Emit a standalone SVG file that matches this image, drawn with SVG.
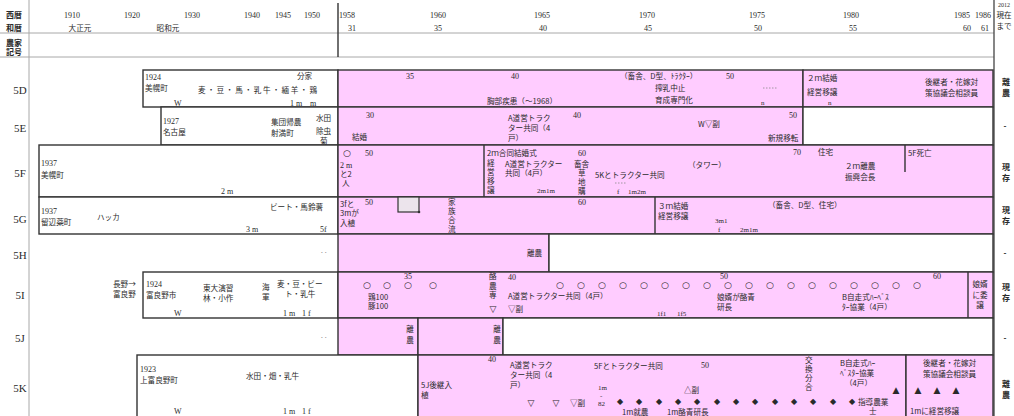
<svg xmlns="http://www.w3.org/2000/svg" width="1014" height="416" viewBox="0 0 1014 416">
<style>
.w{fill:#fff;stroke:#333;stroke-width:1.4}
.p{fill:#ffccff;stroke:#333;stroke-width:1.4}
.gl{stroke:#a8a8a8;stroke-width:1;fill:none}
.dl{stroke:#333;stroke-width:1.4;fill:none}
.dot{stroke:#888;stroke-width:0.8;stroke-dasharray:1.5 1.5;fill:none}
text{fill:#2a2a2a}
.t{font-family:"Noto Sans CJK JP","Liberation Sans",sans-serif;font-size:7.6px}
.n{font-family:"Liberation Serif","Noto Sans CJK JP",serif;font-size:8px}
.s{font-family:"Liberation Serif","Noto Sans CJK JP",serif;font-size:7px}
.lab{font-family:"Liberation Serif",serif;font-size:11px;text-anchor:middle}
.m{text-anchor:middle}
.sym{font-family:"DejaVu Sans",sans-serif;font-size:9px;text-anchor:middle}
.dm{font-family:"DejaVu Sans",sans-serif;font-size:8px;text-anchor:middle}
.st{font-family:"Noto Sans CJK JP",sans-serif;font-size:8px;text-anchor:middle;font-weight:bold}
.hd{font-family:"Noto Sans CJK JP",sans-serif;font-size:8px;font-weight:bold}
.gr{fill:#888}
</style>

<g id="grid">
<line class="gl" x1="29" y1="0" x2="29" y2="416"/>
<line class="gl" x1="0" y1="33" x2="994" y2="33"/>
<line class="gl" x1="0" y1="57" x2="994" y2="57"/>
<line class="dl" x1="338" y1="3" x2="338" y2="57"/>
<line stroke="#444" stroke-width="1.3" x1="994" y1="0" x2="994" y2="416"/>
</g>

<g id="header">
<text class="hd" x="6" y="18">西暦</text>
<text class="hd" x="6" y="31">和暦</text>
<text class="hd" x="6" y="46">農家</text>
<text class="hd" x="6" y="55">記号</text>
<text class="n m" x="72" y="18">1910</text>
<text class="n m" x="132" y="18">1920</text>
<text class="n m" x="192" y="18">1930</text>
<text class="n m" x="252" y="18">1940</text>
<text class="n m" x="283" y="18">1945</text>
<text class="n m" x="312" y="18">1950</text>
<text class="t m" x="80" y="31">大正元</text>
<text class="t m" x="168" y="31">昭和元</text>
<text class="n m" x="347" y="18">1958</text>
<text class="n m" x="352" y="31">31</text>
<text class="n m" x="438" y="18">1960</text>
<text class="n m" x="438" y="31">35</text>
<text class="n m" x="542" y="18">1965</text>
<text class="n m" x="543" y="31">40</text>
<text class="n m" x="647" y="18">1970</text>
<text class="n m" x="648" y="31">45</text>
<text class="n m" x="757" y="18">1975</text>
<text class="n m" x="758" y="31">50</text>
<text class="n m" x="851" y="18">1980</text>
<text class="n m" x="853" y="31">55</text>
<text class="n m" x="962" y="18">1985</text>
<text class="n m" x="967" y="31">60</text>
<text class="n m" x="983" y="18">1986</text>
<text class="n m" x="985" y="31">61</text>
<text class="n m" x="1004" y="7" style="font-size:6px">2012</text>
<text class="t m" x="1004" y="18">現在</text>
<text class="t m" x="1004" y="29">まで</text>
</g>

<g id="labels">
<text class="lab" x="20" y="94">5D</text>
<text class="lab" x="20" y="132">5E</text>
<text class="lab" x="20" y="177">5F</text>
<text class="lab" x="20" y="223">5G</text>
<text class="lab" x="20" y="259">5H</text>
<text class="lab" x="20" y="299">5I</text>
<text class="lab" x="20" y="342">5J</text>
<text class="lab" x="20" y="392">5K</text>
</g>

<g id="row-5D">
<rect class="w" x="143" y="70" width="195" height="37"/>
<rect class="p" x="338" y="70" width="465" height="37"/>
<rect class="p" x="803" y="70" width="190" height="37"/>
<text class="n" x="145" y="80">1924</text>
<text class="t" x="145" y="91">美幌町</text>
<text class="t" x="297" y="79">分家</text>
<text class="t" x="198" y="93" textLength="119">麦・豆・馬・乳牛・緬羊・鶏</text>
<text class="n" x="174" y="106">W</text>
<text class="n" x="290" y="106">1 m</text>
<text class="n" x="310" y="106">m</text>
<text class="n m" x="410" y="79">35</text>
<text class="n m" x="515" y="79">40</text>
<text class="t" x="620" y="79">（畜舎、D型、ﾄﾗｸﾀｰ）</text>
<text class="n m" x="730" y="79">50</text>
<text class="t" x="655" y="91">搾乳中止</text>
<text class="t" x="655" y="103">育成専門化</text>
<text class="t" x="487" y="104">胸部疾患（〜1968）</text>
<line class="dot" x1="763" y1="88" x2="777" y2="88"/>
<text class="s" x="761" y="105">n</text>
<text class="t" x="807" y="81">２ｍ結婚</text>
<text class="t" x="807" y="95">経営移譲</text>
<text class="s" x="828" y="105">n</text>
<text class="t" x="925" y="85">後継者・花嫁対</text>
<text class="t" x="925" y="96">策協議会相談員</text>
<text class="st" x="1006" y="85">離</text>
<text class="st" x="1006" y="96">農</text>
</g>

<g id="row-5E">
<rect class="w" x="161" y="107" width="177" height="38"/>
<rect class="p" x="338" y="107" width="465" height="38"/>
<rect class="w" x="803" y="107" width="190" height="38"/>
<text class="n" x="163" y="124">1927</text>
<text class="t" x="163" y="135">名古屋</text>
<text class="t" x="271" y="125">集団帰農</text>
<text class="t" x="271" y="136">射満町</text>
<text class="t" x="316" y="121">水田</text>
<text class="t" x="316" y="134">除虫</text>
<text class="t" x="320" y="144">菊</text>
<text class="n m" x="370" y="118">30</text>
<text class="t" x="352" y="140">結婚</text>
<text class="t" x="508" y="121">A道営トラク</text>
<text class="t" x="508" y="131">ター共同（4</text>
<text class="t" x="508" y="141">戸）</text>
<text class="n m" x="577" y="118">40</text>
<text class="t" x="698" y="127">W▽副</text>
<text class="n m" x="793" y="118">50</text>
<text class="t" x="768" y="141">新規移転</text>
<text class="st" x="1005" y="129">-</text>
</g>

<g id="row-5F">
<rect class="w" x="39" y="145" width="299" height="52"/>
<rect class="p" x="338" y="145" width="655" height="52"/>
<line class="dl" x1="484" y1="145" x2="484" y2="197"/>
<line class="dl" x1="905" y1="145" x2="905" y2="172"/>
<text class="n" x="41" y="166">1937</text>
<text class="t" x="41" y="178">美幌町</text>
<text class="n" x="221" y="194">2 m</text>
<text class="sym" x="347" y="156">○</text>
<text class="n m" x="369" y="156">50</text>
<text class="n" x="340" y="168">2 m</text>
<text class="t" x="340" y="177">と2</text>
<text class="t" x="342" y="186">人</text>
<text class="t" x="487" y="156">2ｍ合同結婚式</text>
<text class="n m" x="582" y="156">60</text>
<text class="t"><tspan x="487" y="166">経</tspan><tspan x="487" y="175">営</tspan><tspan x="487" y="184">移</tspan><tspan x="487" y="193">譲</tspan></text>
<text class="t" x="505" y="167">A道営トラクター</text>
<text class="t" x="505" y="176">共同（4戸）</text>
<text class="s" x="537" y="193">2m1m</text>
<text class="t" x="574" y="167">畜舎</text>
<text class="t"><tspan x="578" y="176">草</tspan><tspan x="578" y="185">地</tspan><tspan x="578" y="194">購</tspan></text>
<text class="t" x="595" y="178">5Kとトラクター共同</text>
<line class="dot" x1="615" y1="183" x2="627" y2="183"/>
<text class="s" x="617" y="194">f</text>
<text class="s" x="628" y="194">1m2m</text>
<text class="t" x="688" y="168">（タワー）</text>
<text class="n m" x="797" y="155">70</text>
<text class="t" x="818" y="155">住宅</text>
<text class="t" x="845" y="169">２ｍ離農</text>
<text class="t" x="845" y="180">振興会長</text>
<text class="t" x="908" y="156">5F死亡</text>
<text class="st" x="1006" y="170">現</text>
<text class="st" x="1006" y="181">存</text>
</g>

<g id="row-5G">
<rect class="w" x="39" y="197" width="299" height="37"/>
<rect class="p" x="338" y="197" width="655" height="37"/>
<line class="dl" x1="655" y1="197" x2="655" y2="234"/>
<rect x="398" y="197" width="21" height="15" fill="#ece4ec" stroke="#333" stroke-width="1.2"/>
<circle cx="419" cy="212" r="1.3" fill="#333"/>
<text class="n" x="41" y="214">1937</text>
<text class="t" x="41" y="225">留辺蘂町</text>
<text class="t" x="97" y="220">ハッカ</text>
<text class="t" x="270" y="210">ビート・馬鈴薯</text>
<text class="n" x="246" y="232">3 m</text>
<text class="n" x="320" y="232">5f</text>
<text class="t" x="340" y="207">3fと</text>
<text class="t" x="340" y="216">3mが</text>
<text class="t" x="340" y="226">入植</text>
<text class="n m" x="369" y="205">50</text>
<text class="t"><tspan x="448" y="205">家</tspan><tspan x="448" y="214">族</tspan><tspan x="448" y="223">合</tspan><tspan x="448" y="232">流</tspan></text>
<text class="n m" x="582" y="205">60</text>
<text class="t" x="658" y="209">３ｍ結婚</text>
<text class="t" x="658" y="219">経営移譲</text>
<text class="s" x="715" y="223">3m1</text>
<text class="s" x="718" y="232">f</text>
<text class="s" x="740" y="232">2m1m</text>
<text class="t" x="768" y="208">（畜舎、D型、住宅）</text>
<text class="st" x="1006" y="213">現</text>
<text class="st" x="1006" y="224">存</text>
</g>

<g id="row-5H">
<rect class="p" x="338" y="234" width="211" height="38"/>
<rect class="w" x="549" y="234" width="444" height="38"/>
<text class="t" x="527" y="256">離農</text>
<text class="t gr" x="320" y="256">‥</text>
<text class="st" x="1005" y="256">-</text>
</g>

<g id="row-5I">
<rect class="w" x="143" y="272" width="195" height="46"/>
<rect class="p" x="338" y="272" width="655" height="46"/>
<line class="dl" x1="968" y1="272" x2="968" y2="318"/>
<text class="t" x="113" y="287">長野→</text>
<text class="t" x="113" y="297">富良野</text>
<text class="n" x="146" y="287">1924</text>
<text class="t" x="146" y="298">富良野市</text>
<text class="t" x="203" y="291">東大演習</text>
<text class="t" x="203" y="301">林・小作</text>
<text class="t"><tspan x="262" y="290">海</tspan><tspan x="262" y="300">軍</tspan></text>
<text class="t" x="277" y="287">麦・豆・ビー</text>
<text class="t" x="285" y="297">ト・乳牛</text>
<text class="n" x="174" y="316">W</text>
<text class="n" x="283" y="316">1 m</text>
<text class="n" x="302" y="316">1 f</text>
<text class="n m" x="408" y="279">35</text>
<text class="sym" x="367" y="288">○</text>
<text class="sym" x="387" y="288">○</text>
<text class="sym" x="408" y="288">○</text>
<text class="sym" x="433" y="288">○</text>
<text class="t" x="368" y="300">鶏100</text>
<text class="t" x="368" y="309">豚100</text>
<text class="t"><tspan x="489" y="279">酪</tspan><tspan x="489" y="289">農</tspan><tspan x="489" y="298">専</tspan></text>
<text class="sym" x="493" y="312">▽</text>
<text class="n m" x="512" y="280">40</text>
<text class="t" x="508" y="299">A道営トラクター共同（4戸）</text>
<text class="t" x="508" y="312">▽副</text>
<g>
<text class="sym" x="560" y="288">○</text><text class="sym" x="581" y="288">○</text><text class="sym" x="602" y="288">○</text><text class="sym" x="623" y="288">○</text><text class="sym" x="644" y="288">○</text><text class="sym" x="665" y="288">○</text><text class="sym" x="686" y="288">○</text><text class="sym" x="707" y="288">○</text><text class="sym" x="728" y="288">○</text><text class="sym" x="749" y="288">○</text><text class="sym" x="770" y="288">○</text><text class="sym" x="791" y="288">○</text><text class="sym" x="812" y="288">○</text><text class="sym" x="833" y="288">○</text><text class="sym" x="854" y="288">○</text><text class="sym" x="875" y="288">○</text><text class="sym" x="896" y="288">○</text><text class="sym" x="917" y="288">○</text>
</g>
<text class="n m" x="724" y="279">50</text>
<text class="n m" x="937" y="279">60</text>
<text class="s" x="657" y="316">1f1</text>
<text class="s" x="677" y="316">1f5</text>
<text class="t" x="717" y="300">娘婿が酪青</text>
<text class="t" x="717" y="310">研長</text>
<text class="t" x="842" y="300">B自走式ﾊｰﾍﾞｽ</text>
<text class="t" x="842" y="310">ﾀｰ協業（4戸）</text>
<text class="t m" x="980" y="287">娘婿</text>
<text class="t m" x="980" y="298">に委</text>
<text class="t m" x="980" y="308">譲</text>
<text class="st" x="1006" y="290">現</text>
<text class="st" x="1006" y="301">存</text>
</g>

<g id="row-5J">
<rect class="p" x="338" y="318" width="80" height="37"/>
<rect class="p" x="418" y="318" width="85" height="37"/>
<rect class="w" x="503" y="318" width="490" height="37"/>
<text class="t m"><tspan x="410" y="332">離</tspan><tspan x="410" y="343">農</tspan></text>
<text class="t m"><tspan x="497" y="332">離</tspan><tspan x="497" y="343">農</tspan></text>
<text class="t gr" x="320" y="341">‥</text>
<text class="st" x="1005" y="341">-</text>
</g>

<g id="row-5K">
<rect class="w" x="137" y="355" width="281" height="70"/>
<rect class="p" x="418" y="355" width="488" height="70"/>
<rect class="p" x="906" y="355" width="87" height="70"/>
<text class="n" x="140" y="372">1923</text>
<text class="t" x="140" y="383">上富良野町</text>
<text class="t" x="246" y="379">水田・畑・乳牛</text>
<text class="n" x="174" y="414">W</text>
<text class="n" x="283" y="414">1 m</text>
<text class="n" x="302" y="414">1 f</text>
<text class="t" x="421" y="388">5J後継入</text>
<text class="t" x="421" y="398">植</text>
<text class="n m" x="492" y="362">40</text>
<text class="t" x="510" y="368">A道営トラク</text>
<text class="t" x="510" y="378">ター共同（4</text>
<text class="t" x="510" y="388">戸）</text>
<text class="sym" x="531" y="406">▽</text>
<text class="sym" x="556" y="406">▽</text>
<text class="t" x="570" y="406">▽副</text>
<text class="s" x="598" y="390">1m</text>
<text class="s" x="600" y="398">-</text>
<text class="s" x="598" y="406">82</text>
<text class="t" x="594" y="369">5Fとトラクター共同</text>
<text class="n m" x="705" y="368">50</text>
<text class="t" x="684" y="393">△副</text>
<g>
<text class="dm" x="620" y="404">◆</text><text class="dm" x="639" y="404">◆</text><text class="dm" x="659" y="404">◆</text><text class="dm" x="678" y="404">◆</text><text class="dm" x="697" y="404">◆</text><text class="dm" x="717" y="404">◆</text><text class="dm" x="736" y="404">◆</text><text class="dm" x="755" y="404">◆</text><text class="dm" x="775" y="404">◆</text><text class="dm" x="794" y="404">◆</text><text class="dm" x="813" y="404">◆</text><text class="dm" x="833" y="404">◆</text><text class="dm" x="852" y="404">◆</text>
</g>
<text class="t"><tspan x="805" y="363">交</tspan><tspan x="805" y="372">換</tspan><tspan x="805" y="381">分</tspan><tspan x="805" y="390">合</tspan></text>
<text class="t" x="622" y="415">1m就農</text>
<text class="t" x="667" y="415">1m酪青研長</text>
<text class="t" x="840" y="366">B自走式ﾊｰ</text>
<text class="t" x="840" y="376">ﾍﾞｽﾀｰ協業</text>
<text class="t" x="845" y="386">（4戸）</text>
<text class="sym" x="896" y="393">▲</text>
<text class="t" x="858" y="405">指導農業</text>
<text class="t" x="869" y="414">士</text>
<text class="t" x="923" y="366">後継者・花嫁対</text>
<text class="t" x="923" y="377">策協議会相談員</text>
<text class="sym" x="918" y="393">▲</text>
<text class="sym" x="937" y="393">▲</text>
<text class="sym" x="956" y="393">▲</text>
<text class="t" x="910" y="414">1mに経営移譲</text>
<text class="st" x="1006" y="387">離</text>
<text class="st" x="1006" y="398">農</text>
</g>

<g id="connectors"></g>
</svg>
